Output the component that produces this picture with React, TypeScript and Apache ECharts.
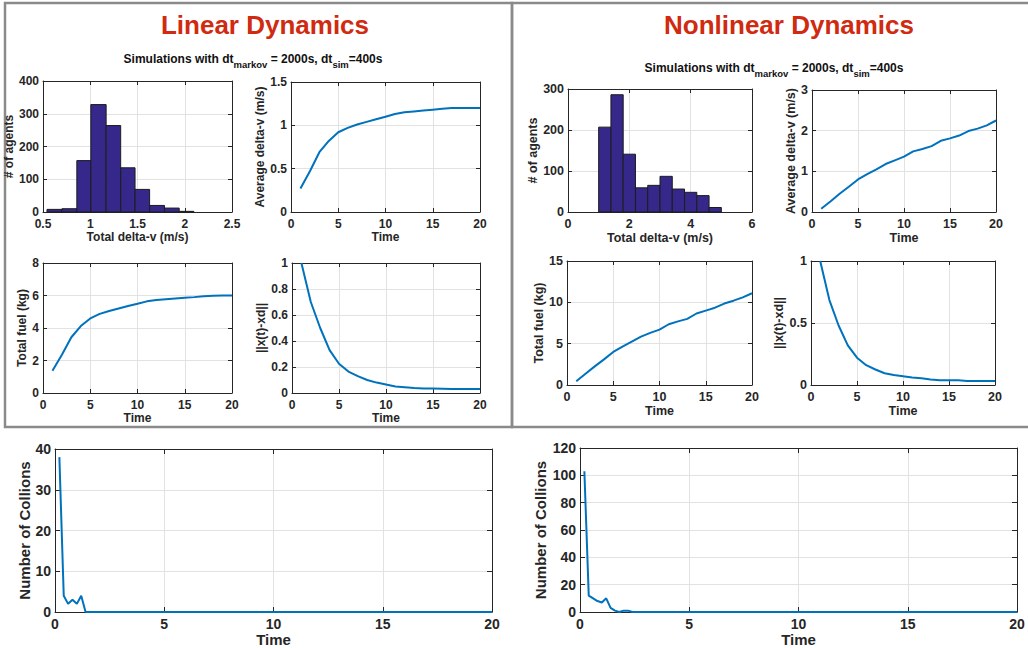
import React, { useEffect, useRef } from "react";
import * as echarts from "echarts";

const FONT = "'Liberation Sans', Arial, Helvetica, sans-serif";
const INK = "#262626";
const LINE = "#0072BD";
const BAR = "#35288a";
const GRIDC = "#e2e2e2";
const RED = "#d02a10";

// ---------- data ----------
const timeSteps = [1, 2, 3, 4, 5, 6, 7, 8, 9, 10, 11, 12, 13, 14, 15, 16, 17, 18, 19, 20];

const linHistEdges = [0.542, 0.7, 0.858, 1.006, 1.168, 1.322, 1.474, 1.628, 1.786, 1.941, 2.096];
const linHistCounts = [8, 10, 157, 328, 264, 135, 69, 20, 12, 2];
const linAvgDv = [0.27, 0.47, 0.69, 0.82, 0.92, 0.97, 1.01, 1.04, 1.07, 1.1, 1.13, 1.15, 1.16, 1.17, 1.18, 1.19, 1.2, 1.2, 1.2, 1.2];
const linFuel = [1.37, 2.35, 3.43, 4.12, 4.59, 4.87, 5.05, 5.2, 5.35, 5.49, 5.64, 5.72, 5.77, 5.82, 5.86, 5.9, 5.95, 5.98, 6.0, 6.0];
const linNorm = [1.0, 0.7, 0.5, 0.33, 0.225, 0.165, 0.13, 0.1, 0.08, 0.065, 0.05, 0.045, 0.038, 0.035, 0.035, 0.033, 0.03, 0.03, 0.03, 0.03];

const nonHistEdges = [1.0, 1.4, 1.8, 2.2, 2.6, 3.0, 3.4, 3.8, 4.2, 4.6, 5.0];
const nonHistCounts = [207, 286, 141, 59, 65, 87, 56, 48, 40, 11];
const nonAvgDv = [0.08, 0.26, 0.45, 0.62, 0.8, 0.93, 1.05, 1.18, 1.27, 1.36, 1.49, 1.55, 1.62, 1.75, 1.81, 1.88, 1.99, 2.05, 2.13, 2.25];
const nonFuel = [0.45, 1.35, 2.25, 3.1, 4.0, 4.65, 5.25, 5.85, 6.3, 6.7, 7.35, 7.7, 8.0, 8.65, 9.0, 9.35, 9.85, 10.2, 10.6, 11.1];
const nonNorm = [1.0, 0.685, 0.48, 0.32, 0.22, 0.16, 0.125, 0.095, 0.08, 0.07, 0.06, 0.055, 0.045, 0.038, 0.038, 0.038, 0.033, 0.033, 0.033, 0.033];

const linCollTime = [0.2, 0.4, 0.6, 0.8, 1.0, 1.2, 1.4, 20];
const linCollCount = [38, 4, 2, 3, 2, 4, 0, 0];
const nonCollTime = [0.2, 0.4, 0.6, 0.8, 1.0, 1.2, 1.4, 1.6, 1.8, 2.0, 2.2, 2.4, 20];
const nonCollCount = [103, 12, 10, 8, 7, 10, 3, 1, 0, 1, 1, 0, 0];

// ---------- layout ----------
type Panel = {
  l: number; t: number; w: number; h: number;
  x: [number, number, number]; y: [number, number, number];
  xn: string; yn: string; xg: number; yg: number;
  fs: number; nfs: number; tl: number; xm: number;
};

const panels: Panel[] = [
  { l: 43, t: 81, w: 189, h: 131, x: [0.5, 2.5, 0.5], y: [0, 400, 100], xn: "Total delta-v (m/s)", yn: "# of agents", xg: 16, yg: 23, fs: 12, nfs: 12, tl: 4, xm: 6 },
  { l: 291, t: 82, w: 189, h: 130, x: [0, 20, 5], y: [0, 1.5, 0.5], xn: "Time", yn: "Average delta-v (m/s)", xg: 16, yg: 18, fs: 12, nfs: 12, tl: 4, xm: 6 },
  { l: 43, t: 263, w: 189, h: 130, x: [0, 20, 5], y: [0, 8, 2], xn: "Time", yn: "Total fuel (kg)", xg: 17, yg: 9, fs: 12, nfs: 12, tl: 4, xm: 6 },
  { l: 292, t: 263, w: 188, h: 130, x: [0, 20, 5], y: [0, 1, 0.2], xn: "Time", yn: "||x(t)-xd||", xg: 17, yg: 20, fs: 12, nfs: 12, tl: 4, xm: 6 },
  { l: 568, t: 89, w: 184, h: 123, x: [0, 6, 2], y: [0, 300, 100], xn: "Total delta-v (m/s)", yn: "# of agents", xg: 18, yg: 26, fs: 12.5, nfs: 12.5, tl: 4, xm: 6 },
  { l: 812, t: 90, w: 184, h: 122, x: [0, 20, 5], y: [0, 3, 1], xn: "Time", yn: "Average delta-v (m/s)", xg: 18, yg: 13, fs: 12.5, nfs: 12.5, tl: 4, xm: 6 },
  { l: 567, t: 261, w: 185, h: 124, x: [0, 20, 5], y: [0, 15, 5], xn: "Time", yn: "Total fuel (kg)", xg: 18, yg: 18, fs: 12.5, nfs: 12.5, tl: 4, xm: 6 },
  { l: 811, t: 261, w: 184, h: 124, x: [0, 20, 5], y: [0, 1, 0.5], xn: "Time", yn: "||x(t)-xd||", xg: 18, yg: 22, fs: 12.5, nfs: 12.5, tl: 4, xm: 6 },
  { l: 55, t: 449, w: 437, h: 163, x: [0, 20, 5], y: [0, 40, 10], xn: "Time", yn: "Number of Collions", xg: 18, yg: 20, fs: 14, nfs: 15, tl: 5, xm: 5 },
  { l: 580, t: 448, w: 437, h: 164, x: [0, 20, 5], y: [0, 120, 20], xn: "Time", yn: "Number of Collions", xg: 20, yg: 32, fs: 14, nfs: 15, tl: 5, xm: 5 },
];

function buildOption(): any {
  const grid: any[] = [];
  const xAxis: any[] = [];
  const yAxis: any[] = [];
  panels.forEach((p, i) => {
    grid.push({ left: p.l, top: p.t, width: p.w, height: p.h, containLabel: false });
    const label = {
      show: true, fontSize: p.fs, fontWeight: "bold", color: INK, fontFamily: FONT,
      margin: 4, showMinLabel: true, showMaxLabel: true,
    };
    const nameStyle = { fontSize: p.nfs, fontWeight: "bold", color: INK, fontFamily: FONT };
    const line = { show: true, onZero: false, lineStyle: { color: INK, width: 1 } };
    const tick = { show: true, inside: true, length: p.tl, lineStyle: { color: INK, width: 1 } };
    const split = { show: true, lineStyle: { color: GRIDC, width: 1 } };
    xAxis.push({
      type: "value", gridIndex: i, position: "bottom", min: p.x[0], max: p.x[1], interval: p.x[2],
      name: p.xn, nameLocation: "middle", nameGap: p.xg, nameTextStyle: nameStyle,
      axisLine: line, axisTick: tick, axisLabel: { ...label, margin: p.xm, lineHeight: p.fs }, splitLine: split,
    });
    xAxis.push({
      type: "value", gridIndex: i, position: "top", min: p.x[0], max: p.x[1], interval: p.x[2],
      axisLine: line, axisTick: tick, axisLabel: { show: false }, splitLine: { show: false },
    });
    yAxis.push({
      type: "value", gridIndex: i, position: "left", min: p.y[0], max: p.y[1], interval: p.y[2],
      name: p.yn, nameLocation: "middle", nameGap: p.yg, nameTextStyle: nameStyle,
      axisLine: line, axisTick: tick, axisLabel: { ...label, lineHeight: p.fs }, splitLine: split,
    });
    yAxis.push({
      type: "value", gridIndex: i, position: "right", min: p.y[0], max: p.y[1], interval: p.y[2],
      axisLine: line, axisTick: tick, axisLabel: { show: false }, splitLine: { show: false },
    });
  });

  const hist = (idx: number, edges: number[], counts: number[]) => ({
    type: "custom",
    xAxisIndex: idx * 2,
    yAxisIndex: idx * 2,
    data: counts.map((c, i) => [edges[i], edges[i + 1], c]),
    encode: { x: [0, 1], y: 2 },
    renderItem: (_params: any, api: any) => {
      const p0 = api.coord([api.value(0), api.value(2)]);
      const p1 = api.coord([api.value(1), 0]);
      return {
        type: "rect",
        shape: { x: p0[0], y: p0[1], width: p1[0] - p0[0], height: p1[1] - p0[1] },
        style: { fill: BAR, stroke: "#1c1c1c", lineWidth: 1 },
      };
    },
  });

  const lineS = (idx: number, xs: number[], ys: number[]) => ({
    type: "line",
    xAxisIndex: idx * 2,
    yAxisIndex: idx * 2,
    data: xs.map((x, i) => [x, ys[i]]),
    showSymbol: false,
    symbol: "none",
    lineStyle: { color: LINE, width: 2 },
    itemStyle: { color: LINE },
  });

  const subRich = {
    a: { fontSize: 12, fontWeight: "bold", fontFamily: FONT, fill: "#111", lineHeight: 14 },
    s: { fontSize: 9.5, fontWeight: "bold", fontFamily: FONT, fill: "#111", lineHeight: 10, padding: [11, 0, 0, 0] },
  };
  const subText = "{a|Simulations with dt}{s|markov}{a| = 2000s, dt}{s|sim}{a|=400s}";

  return {
    animation: false,
    backgroundColor: "#ffffff",
    grid,
    xAxis,
    yAxis,
    series: [
      hist(0, linHistEdges, linHistCounts),
      lineS(1, timeSteps, linAvgDv),
      lineS(2, timeSteps, linFuel),
      lineS(3, timeSteps, linNorm),
      hist(4, nonHistEdges, nonHistCounts),
      lineS(5, timeSteps, nonAvgDv),
      lineS(6, timeSteps, nonFuel),
      lineS(7, timeSteps, nonNorm),
      lineS(8, linCollTime, linCollCount),
      lineS(9, nonCollTime, nonCollCount),
    ],
    graphic: [
      { type: "rect", shape: { x: 5, y: 3, width: 507, height: 424 }, style: { fill: "none", stroke: "#8a8a8a", lineWidth: 2.5 }, silent: true },
      { type: "rect", shape: { x: 512, y: 3, width: 520, height: 424 }, style: { fill: "none", stroke: "#8a8a8a", lineWidth: 2.5 }, silent: true },
      { type: "text", x: 265, y: 25, style: { text: "Linear Dynamics", fill: RED, font: `bold 26px ${FONT}`, align: "center", verticalAlign: "middle" } },
      { type: "text", x: 789, y: 25, style: { text: "Nonlinear Dynamics", fill: RED, font: `bold 26px ${FONT}`, align: "center", verticalAlign: "middle" } },
      { type: "text", x: 253, y: 59, style: { text: subText, rich: subRich, align: "center", verticalAlign: "middle" } },
      { type: "text", x: 774, y: 68, style: { text: subText, rich: subRich, align: "center", verticalAlign: "middle" } },
    ],
  };
}

export default function App() {
  const ref = useRef<HTMLDivElement>(null);
  useEffect(() => {
    if (!ref.current) return;
    const chart = echarts.init(ref.current, undefined, { renderer: "svg" });
    chart.setOption(buildOption());
    return () => chart.dispose();
  }, []);
  return (
    <div
      ref={ref}
      style={{ position: "fixed", left: 0, top: 0, width: 1028, height: 648, background: "#fff" }}
    />
  );
}
